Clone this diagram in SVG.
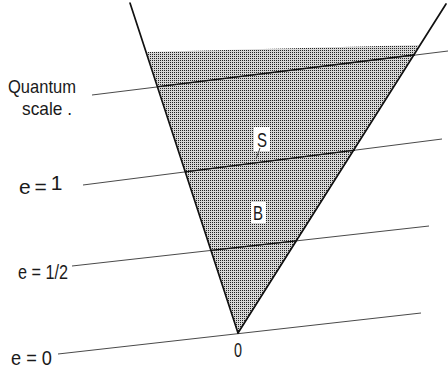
<svg xmlns="http://www.w3.org/2000/svg" width="448" height="369" viewBox="0 0 448 369">
<style>
.txt{font-family:"Liberation Sans",Arial,sans-serif;font-size:21px;fill:#1a1a1a}
.sm{font-size:19px}
.thin{stroke:#4a4a4a;stroke-width:1;fill:none}
.inner{stroke:#111;stroke-width:1.4;fill:none}
.edge{stroke:#111;stroke-width:1.7;fill:none;stroke-linecap:round}
.blank{fill:#fff}
</style>
<defs>
<pattern id="dots" patternUnits="userSpaceOnUse" x="0" y="0" width="2" height="2">
<rect width="2" height="2" fill="#d6d6d6"/>
<rect width="1" height="1" fill="#222"/>
</pattern>
</defs>
<rect width="448" height="369" fill="#fff"/>
<g id="region">
<polygon points="147,52 419,45 238,333" fill="url(#dots)"/>
<rect class="blank" x="254" y="127" width="16" height="24"/>
<rect class="blank" x="251" y="202" width="15" height="21"/>
</g>
<g id="connectors">
<line class="thin" x1="92" y1="95" x2="448" y2="51"/>
<line class="inner" x1="158" y1="86.6" x2="415" y2="54.8"/>
<line class="thin" x1="83" y1="185" x2="442" y2="139"/>
<line class="inner" x1="185" y1="171.9" x2="355" y2="150.1"/>
<line class="thin" x1="72" y1="266" x2="429" y2="226"/>
<line class="inner" x1="211" y1="250.4" x2="296" y2="240.9"/>
<line class="thin" x1="58" y1="354" x2="421" y2="313"/>
<line class="edge" x1="130" y1="3" x2="238" y2="333"/>
<line class="edge" x1="446" y1="4" x2="238" y2="333"/>
<line class="thin" x1="260" y1="148" x2="256" y2="159"/>
</g>
<g id="labels">
<text class="txt sm" x="8" y="93" textLength="68" lengthAdjust="spacingAndGlyphs">Quantum</text>
<text class="txt sm" x="22" y="115" textLength="50" lengthAdjust="spacingAndGlyphs">scale .</text>
<text class="txt" x="19" y="194" letter-spacing="-1">e = <tspan dy="-4">1</tspan></text>
<text class="txt" x="18" y="279" textLength="50" lengthAdjust="spacingAndGlyphs">e = 1/2</text>
<text class="txt" x="11" y="365" textLength="41" lengthAdjust="spacingAndGlyphs">e = 0</text>
<text class="txt" x="234" y="357" textLength="8" lengthAdjust="spacingAndGlyphs">0</text>
<text class="txt" x="257" y="147" textLength="10" lengthAdjust="spacingAndGlyphs">S</text>
<text class="txt" x="253" y="220" textLength="10" lengthAdjust="spacingAndGlyphs">B</text>
</g>
</svg>
